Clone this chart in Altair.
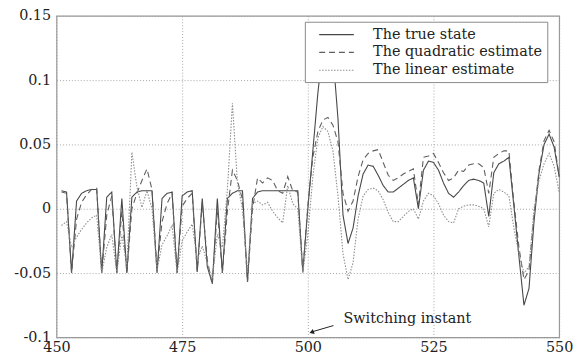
import altair as alt
import pandas as pd

# ---------------- data ----------------
t_values = list(range(451, 551))

true_state = [
    0.014, 0.013, -0.05, 0.006, 0.012, 0.014, 0.015, 0.015, -0.05, 0.009,   # 451-460
    0.013, -0.05, 0.008, -0.05, 0.009, 0.013, 0.014, 0.014, 0.014, -0.05,   # 461-470
    0.008, 0.012, 0.013, -0.05, 0.010, 0.013, 0.014, -0.049, 0.008, -0.045, # 471-480
    -0.058, 0.008, -0.05, 0.008, 0.012, 0.014, 0.014, -0.057, 0.008, 0.013, # 481-490
    0.014, 0.014, 0.014, 0.014, 0.014, 0.014, 0.014, 0.014, -0.049, 0.0,    # 491-500
    0.045, 0.09, 0.125, 0.135, 0.12, 0.07, -0.005, -0.027, -0.015, 0.01,    # 501-510
    0.027, 0.034, 0.033, 0.026, 0.018, 0.013, 0.013, 0.016, 0.019, 0.022,   # 511-520
    0.024, 0.0, 0.03, 0.037, 0.036, 0.03, 0.02, 0.012, 0.009, 0.013,        # 521-530
    0.018, 0.022, 0.023, 0.022, 0.02, -0.006, 0.028, 0.035, 0.037, 0.04,    # 531-540
    0.002, -0.037, -0.075, -0.062, -0.01, 0.028, 0.05, 0.058, 0.048, 0.025, # 541-550
]

quadratic_estimate = [
    0.013, 0.012, -0.05, -0.008, 0.005, 0.011, 0.015, 0.016, -0.05, -0.005,
    0.010, -0.05, -0.002, -0.05, 0.0, 0.012, 0.022, 0.031, 0.015, -0.048,
    -0.010, 0.004, 0.012, -0.05, 0.002, 0.008, 0.012, -0.049, 0.005, -0.04,
    -0.059, 0.0, -0.05, -0.002, 0.03, 0.022, 0.007, -0.057, 0.0, 0.024,
    0.02, 0.024, 0.022, 0.014, 0.012, 0.025, 0.014, 0.013, -0.049, 0.002,
    0.04, 0.06, 0.069, 0.071, 0.065, 0.052, 0.012, -0.002, 0.006, 0.025,
    0.038, 0.043, 0.045, 0.046, 0.036, 0.026, 0.022, 0.024, 0.027, 0.029,
    0.031, 0.003, 0.04, 0.041, 0.043, 0.036, 0.028, 0.022, 0.024, 0.03,
    0.029, 0.034, 0.035, 0.035, 0.032, 0.012, 0.04, 0.043, 0.045, 0.045,
    0.005, -0.03, -0.055, -0.048, -0.005, 0.03, 0.053, 0.061, 0.052, 0.025,
]

linear_estimate = [
    -0.013, -0.01, -0.03, -0.022, -0.016, -0.011, -0.007, -0.005, -0.05, -0.03,
    -0.02, -0.05, -0.02, -0.045, 0.044, 0.017, 0.001, 0.014, 0.0, -0.048,
    -0.028, -0.021, -0.013, -0.05, -0.025, -0.018, -0.012, -0.04, -0.029, -0.042,
    -0.055, -0.02, -0.03, 0.015, 0.082, 0.02, 0.0, -0.05, 0.004, 0.006,
    0.003, 0.005, -0.002, -0.007, -0.011, 0.018, 0.004, 0.0, -0.05, -0.02,
    0.025, 0.055, 0.064, 0.06, 0.045, 0.01, -0.035, -0.055, -0.042, -0.008,
    0.01, 0.015, 0.016, 0.014, 0.007, -0.003, -0.01, -0.01, -0.006, -0.002,
    0.0, -0.008, 0.006, 0.012, 0.01, 0.004, -0.005, -0.01, -0.011, 0.0,
    0.002, 0.003, 0.003, 0.002, 0.0, -0.014, 0.012, 0.015, 0.013, 0.01,
    -0.015, -0.035, -0.05, -0.045, 0.0, 0.022, 0.035, 0.043, 0.033, 0.013,
]

series_names = ["The true state", "The quadratic estimate", "The linear estimate"]
x_ticks = [450, 475, 500, 525, 550]
y_ticks = [-0.1, -0.05, 0, 0.05, 0.1, 0.15]

annotation_label = ["Switching instant"]
annotation_text_pos = [507.1, -0.0854]      # (t, value) of the label's left edge
annotation_arrow_from = [505.1, -0.0908]
annotation_arrow_to = [501.0, -0.0955]
annotation_head = [500.9, -0.0958]

# ---------------- build tables ----------------
rows = []
for name, vals in zip(series_names, [true_state, quadratic_estimate, linear_estimate]):
    for ti, v in zip(t_values, vals):
        rows.append({"t": ti, "v": v, "series": name})
df = pd.DataFrame(rows)

FONT = "DejaVu Serif"
xscale = alt.Scale(domain=[450, 550], nice=False, zero=False)
yscale = alt.Scale(domain=[-0.1, 0.15], nice=False, zero=False)

legend = alt.Legend(
    title=None,
    orient="none",
    legendX=251,
    legendY=6,
    direction="vertical",
    fillColor="white",
    strokeColor="#8a8a8a",
    padding=5,
    symbolType="M-2.5,0H2.5",
    symbolSize=196,
    symbolStrokeWidth=1.1,
    symbolOffset=19,
    labelOffset=29,
    labelLimit=400,
    labelFont=FONT,
    labelFontSize=14.5,
    labelColor="#222222",
    rowPadding=3,
)

lines = alt.Chart(df).mark_line(strokeWidth=1.1).encode(
    x=alt.X(
        "t:Q", scale=xscale,
        axis=alt.Axis(values=x_ticks, title=None, grid=True, ticks=False, domain=False,
                      labelPadding=3, labelFlush=False),
    ),
    y=alt.Y(
        "v:Q", scale=yscale,
        axis=alt.Axis(values=y_ticks, title=None, grid=True, ticks=False, domain=False,
                      labelPadding=6, labelExpr="'' + datum.value"),
    ),
    color=alt.Color(
        "series:N",
        scale=alt.Scale(domain=series_names, range=["#474747", "#5e5e5e", "#8e8e8e"]),
        legend=legend,
    ),
    strokeDash=alt.StrokeDash(
        "series:N",
        scale=alt.Scale(domain=series_names, range=[[1, 0], [6, 4], [1.5, 1.5]]),
        legend=legend,
    ),
    order=alt.Order("t:Q"),
)

ann_df = pd.DataFrame({
    "t": [annotation_text_pos[0]], "v": [annotation_text_pos[1]], "label": annotation_label,
})
arrow_df = pd.DataFrame({
    "t": [annotation_arrow_from[0]], "v": [annotation_arrow_from[1]],
    "t2": [annotation_arrow_to[0]], "v2": [annotation_arrow_to[1]],
})
head_df = pd.DataFrame({"t": [annotation_head[0]], "v": [annotation_head[1]]})

text = alt.Chart(ann_df).mark_text(
    align="left", baseline="middle", font=FONT, fontSize=14.5, color="#222222"
).encode(x=alt.X("t:Q", scale=xscale), y=alt.Y("v:Q", scale=yscale), text="label:N")

arrow = alt.Chart(arrow_df).mark_rule(color="#222222", strokeWidth=1).encode(
    x=alt.X("t:Q", scale=xscale), y=alt.Y("v:Q", scale=yscale), x2="t2:Q", y2="v2:Q"
)

head = alt.Chart(head_df).mark_point(
    shape="triangle", angle=249, size=28, filled=True, color="#222222", opacity=1
).encode(x=alt.X("t:Q", scale=xscale), y=alt.Y("v:Q", scale=yscale))

chart = alt.layer(lines, arrow, head, text).properties(
    width=508,
    height=325,
    autosize=alt.AutoSizeParams(type="none"),
    padding={"left": 49, "top": 6, "right": 14, "bottom": 24},
).configure_view(
    stroke="#9a9a9a", strokeWidth=1.2
).configure_axis(
    gridColor="#9c9c9c", gridDash=[1, 2], gridWidth=0.9,
    labelFont=FONT, labelFontSize=14.5, labelColor="#222222",
)

chart.save("out.html", embed_options={"renderer": "svg", "actions": False})
